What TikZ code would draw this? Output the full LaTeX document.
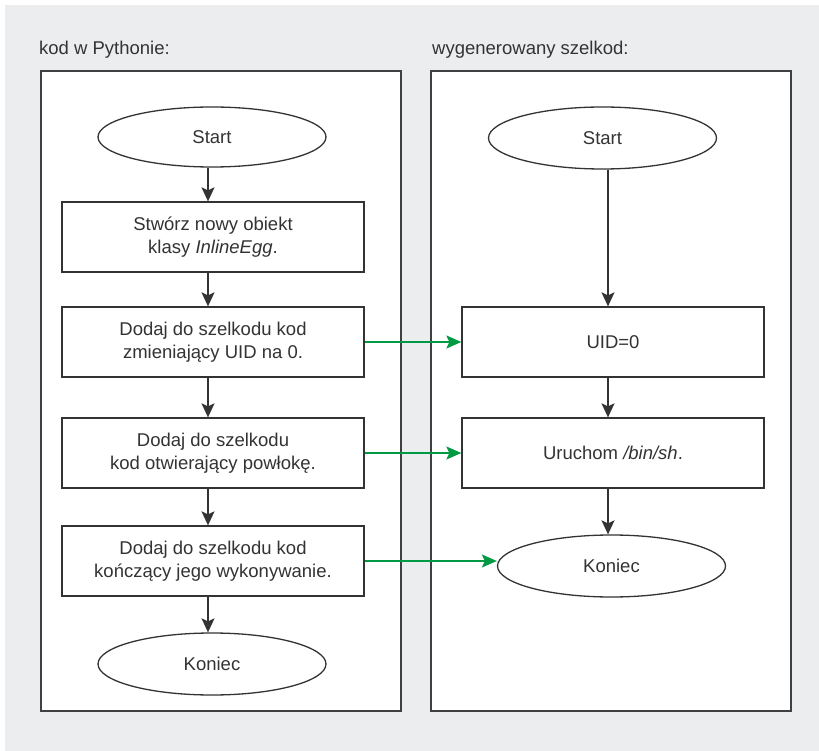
\documentclass[tikz,border=0pt]{standalone}
\usepackage{fontspec}
\setmainfont{Liberation Sans}
\usetikzlibrary{shapes.geometric,arrows.meta}
\definecolor{pagegray}{RGB}{236,237,239}
\definecolor{ink}{RGB}{51,51,51}
\definecolor{framegray}{RGB}{64,64,64}
\definecolor{flowgreen}{RGB}{0,153,68}
\tikzset{
  every node/.style={font=\fontsize{18.5}{23}\selectfont, text=ink},
  terminal/.style={ellipse, draw=ink, line width=1.3pt, fill=white,
    minimum width=228pt, minimum height=60pt, inner sep=0pt},
  stepbox/.style={rectangle, draw=ink, line width=1.3pt, fill=white,
    minimum width=302pt, minimum height=70pt, inner sep=0pt, align=center},
  panel/.style={draw=framegray, line width=2pt, fill=white},
  flow/.style={draw=ink, line width=1.6pt,
    -{Stealth[length=14pt, width=13pt, inset=3pt]}},
  link/.style={draw=flowgreen, line width=1.4pt,
    -{Stealth[length=15pt, width=13pt, inset=3pt]}},
  header/.style={anchor=base west, inner sep=0pt}
}
\begin{document}
\begin{tikzpicture}[x=1pt, y=-1pt]
  \useasboundingbox (0,0) rectangle (819,751);
  % backdrop and the two panels
  \fill[pagegray] (5,5) rectangle (819,751);
  \draw[panel] (40.5,71.5) rectangle (401,711);
  \draw[panel] (431,71.5) rectangle (791,711);

  % panel titles
  \node[header] (tl) at (39,55) {kod w Pythonie:};
  \node[header] (tr) at (432,55) {wygenerowany szelkod:};

  % columns for the vertical arrows
  \coordinate (lx) at (208,0);
  \coordinate (rx) at (608,0);

  % Python program steps
  \node[terminal] (ls) at (212,137) {Start};
  \node[stepbox]  (b1) at (213,237) {Stwórz nowy obiekt\\klasy \textit{InlineEgg}.};
  \node[stepbox]  (b2) at (213,342) {Dodaj do szelkodu kod\\zmieniający UID na 0.};
  \node[stepbox]  (b3) at (213,453) {Dodaj do szelkodu\\kod otwierający powłokę.};
  \node[stepbox]  (b4) at (213,561) {Dodaj do szelkodu kod\\kończący jego wykonywanie.};
  \node[terminal, minimum height=62pt] (lk) at (212,664) {Koniec};

  % generated shellcode
  \node[terminal, minimum height=62pt] (rs) at (602.5,138) {Start};
  \node[stepbox]  (uid) at (613,342) {UID=0};
  \node[stepbox]  (sh)  at (613,453) {Uruchom \textit{/bin/sh}.};
  \node[terminal, minimum height=62pt] (rk) at (611.5,566) {Koniec};

  % program flow
  \draw[flow] (ls.south -| lx) -- (b1.north -| lx);
  \draw[flow] (b1.south -| lx) -- (b2.north -| lx);
  \draw[flow] (b2.south -| lx) -- (b3.north -| lx);
  \draw[flow] (b3.south -| lx) -- (b4.north -| lx);
  \draw[flow] (b4.south -| lx) -- (lk.north -| lx);

  \draw[flow] (rs.south -| rx) -- (uid.north -| rx);
  \draw[flow] (uid.south -| rx) -- (sh.north -| rx);
  \draw[flow] (sh.south -| rx) -- (rk.north -| rx);

  % which step produces which piece of shellcode
  \draw[link] (b2.east) -- (uid.west);
  \draw[link] (b3.east) -- (sh.west);
  \draw[link] (b4.east) -- (b4.east -| rk.west);
\end{tikzpicture}
\end{document}
